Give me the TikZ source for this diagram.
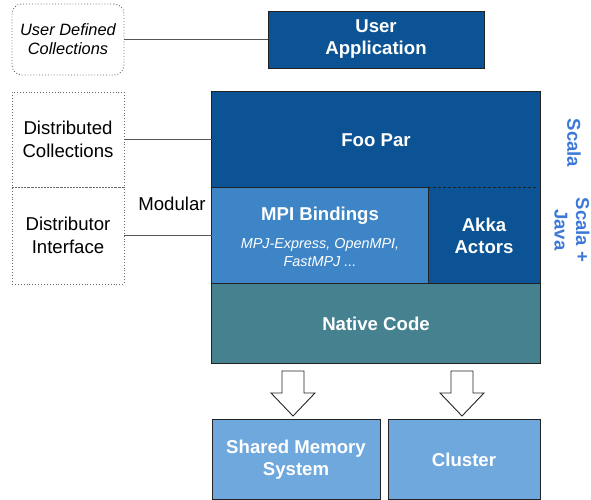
\documentclass[tikz,border=0pt]{standalone}
\usepackage{fontspec}
\setmainfont{Liberation Sans}
\usetikzlibrary{calc}
\definecolor{dblue}{HTML}{0B5394}
\definecolor{mblue}{HTML}{3D85C6}
\definecolor{teal2}{HTML}{45818E}
\definecolor{lblue}{HTML}{6FA8DC}
\definecolor{scalac}{HTML}{3C78D8}
\definecolor{edge}{HTML}{222222}
\definecolor{conn}{HTML}{555555}
\begin{document}
\begin{tikzpicture}[x=1pt,y=-1pt,
  layer/.style={rectangle, inner sep=0pt, align=center, text=white,
     font=\fontsize{18.6}{22}\selectfont\bfseries},
  boxed/.style={layer, draw=edge, line width=0.8pt},
  dotbox/.style={rectangle, inner sep=0pt, align=center, draw=black!60, dotted, line width=0.9pt,
     font=\fontsize{18.6}{22.5}\selectfont},
  conline/.style={draw=conn, line width=0.9pt},
  blockarrow/.style={draw=black!85, fill=white, line width=0.9pt, line join=miter},
  sidelabel/.style={rotate=-90, text=scalac, align=center, inner sep=0pt,
     font=\fontsize{18.6}{21.5}\selectfont\bfseries}
]
\useasboundingbox (0,0) rectangle (591,500);

% top row
\node[dotbox, rounded corners=10pt, minimum width=112, minimum height=71,
      font=\fontsize{16.4}{19}\selectfont\itshape] (udc) at (68,39.5) {User Defined\\Collections};
\node[boxed, fill=dblue, minimum width=216, minimum height=57] (ua) at (376,39.5) {User\\Application};
\draw[conline] (udc.east) -- (ua.west);

% stack
\node[layer, fill=dblue, minimum width=328, minimum height=96] (foopar) at (376,140) {Foo Par};
\node[layer, fill=mblue, minimum width=216, minimum height=96] (mpi) at (320,236) {};
\node[layer, fill=dblue, minimum width=112, minimum height=96] (akka) at (484,236) {Akka\\Actors};
\node[layer, fill=teal2, minimum width=328, minimum height=79] (native) at (376,323.5) {Native Code};
\node[text=white, font=\fontsize{18.6}{22}\selectfont\bfseries, inner sep=0pt] (mpit) at (320,216) {MPI Bindings};
\node[text=white, font=\fontsize{14.4}{18}\selectfont\itshape, align=center, inner sep=0pt] (mpis) at (320,252.5) {MPJ-Express, OpenMPI,\\FastMPJ ...};

\draw[edge, line width=0.8pt] (foopar.north west) rectangle (native.south east);
\draw[edge, line width=0.8pt] (mpi.north west) -- (mpi.north east);
\draw[edge, line width=0.8pt] (mpi.north east) -- (mpi.south east);
\draw[edge, line width=0.8pt] (native.north west) -- (native.north east);
\draw[edge, line width=0.8pt, dash pattern=on 3pt off 2pt] (akka.north west) -- ($(akka.north east)+(-3,0)$);

% left dotted boxes
\node[dotbox, minimum width=112, minimum height=95] (dc) at (68,139.5) {Distributed\\Collections};
\node[dotbox, minimum width=112, minimum height=97] (di) at (68,235.5) {Distributor\\Interface};
\draw[conline] (dc.east) -- (dc.east -| foopar.west);
\draw[conline] (di.east) -- (di.east -| mpi.west);
\node[inner sep=0pt, font=\fontsize{18.6}{22}\selectfont] (modular) at (172,204) {Modular};

% side labels
\node[sidelabel] (sc1) at (574,143) {Scala};
\node[sidelabel] (sc2) at (572,230) {Scala +\\Java};

% bottom boxes
\node[boxed, fill=lblue, minimum width=168, minimum height=80] (sms) at (296,459.5) {Shared Memory\\System};
\node[boxed, fill=lblue, minimum width=152, minimum height=80] (cluster) at (464,459.5) {Cluster};

% block arrows
\coordinate (a1) at (293,371);
\coordinate (a2) at (462,371);
\foreach \c in {a1,a2}{
  \draw[blockarrow] ($(\c)+(-11,0)$) -- ++(22,0) -- ++(0,22) -- ++(11,0) -- ++(-22,23) -- ++(-22,-23) -- ++(11,0) -- cycle;
}
\end{tikzpicture}
\end{document}
